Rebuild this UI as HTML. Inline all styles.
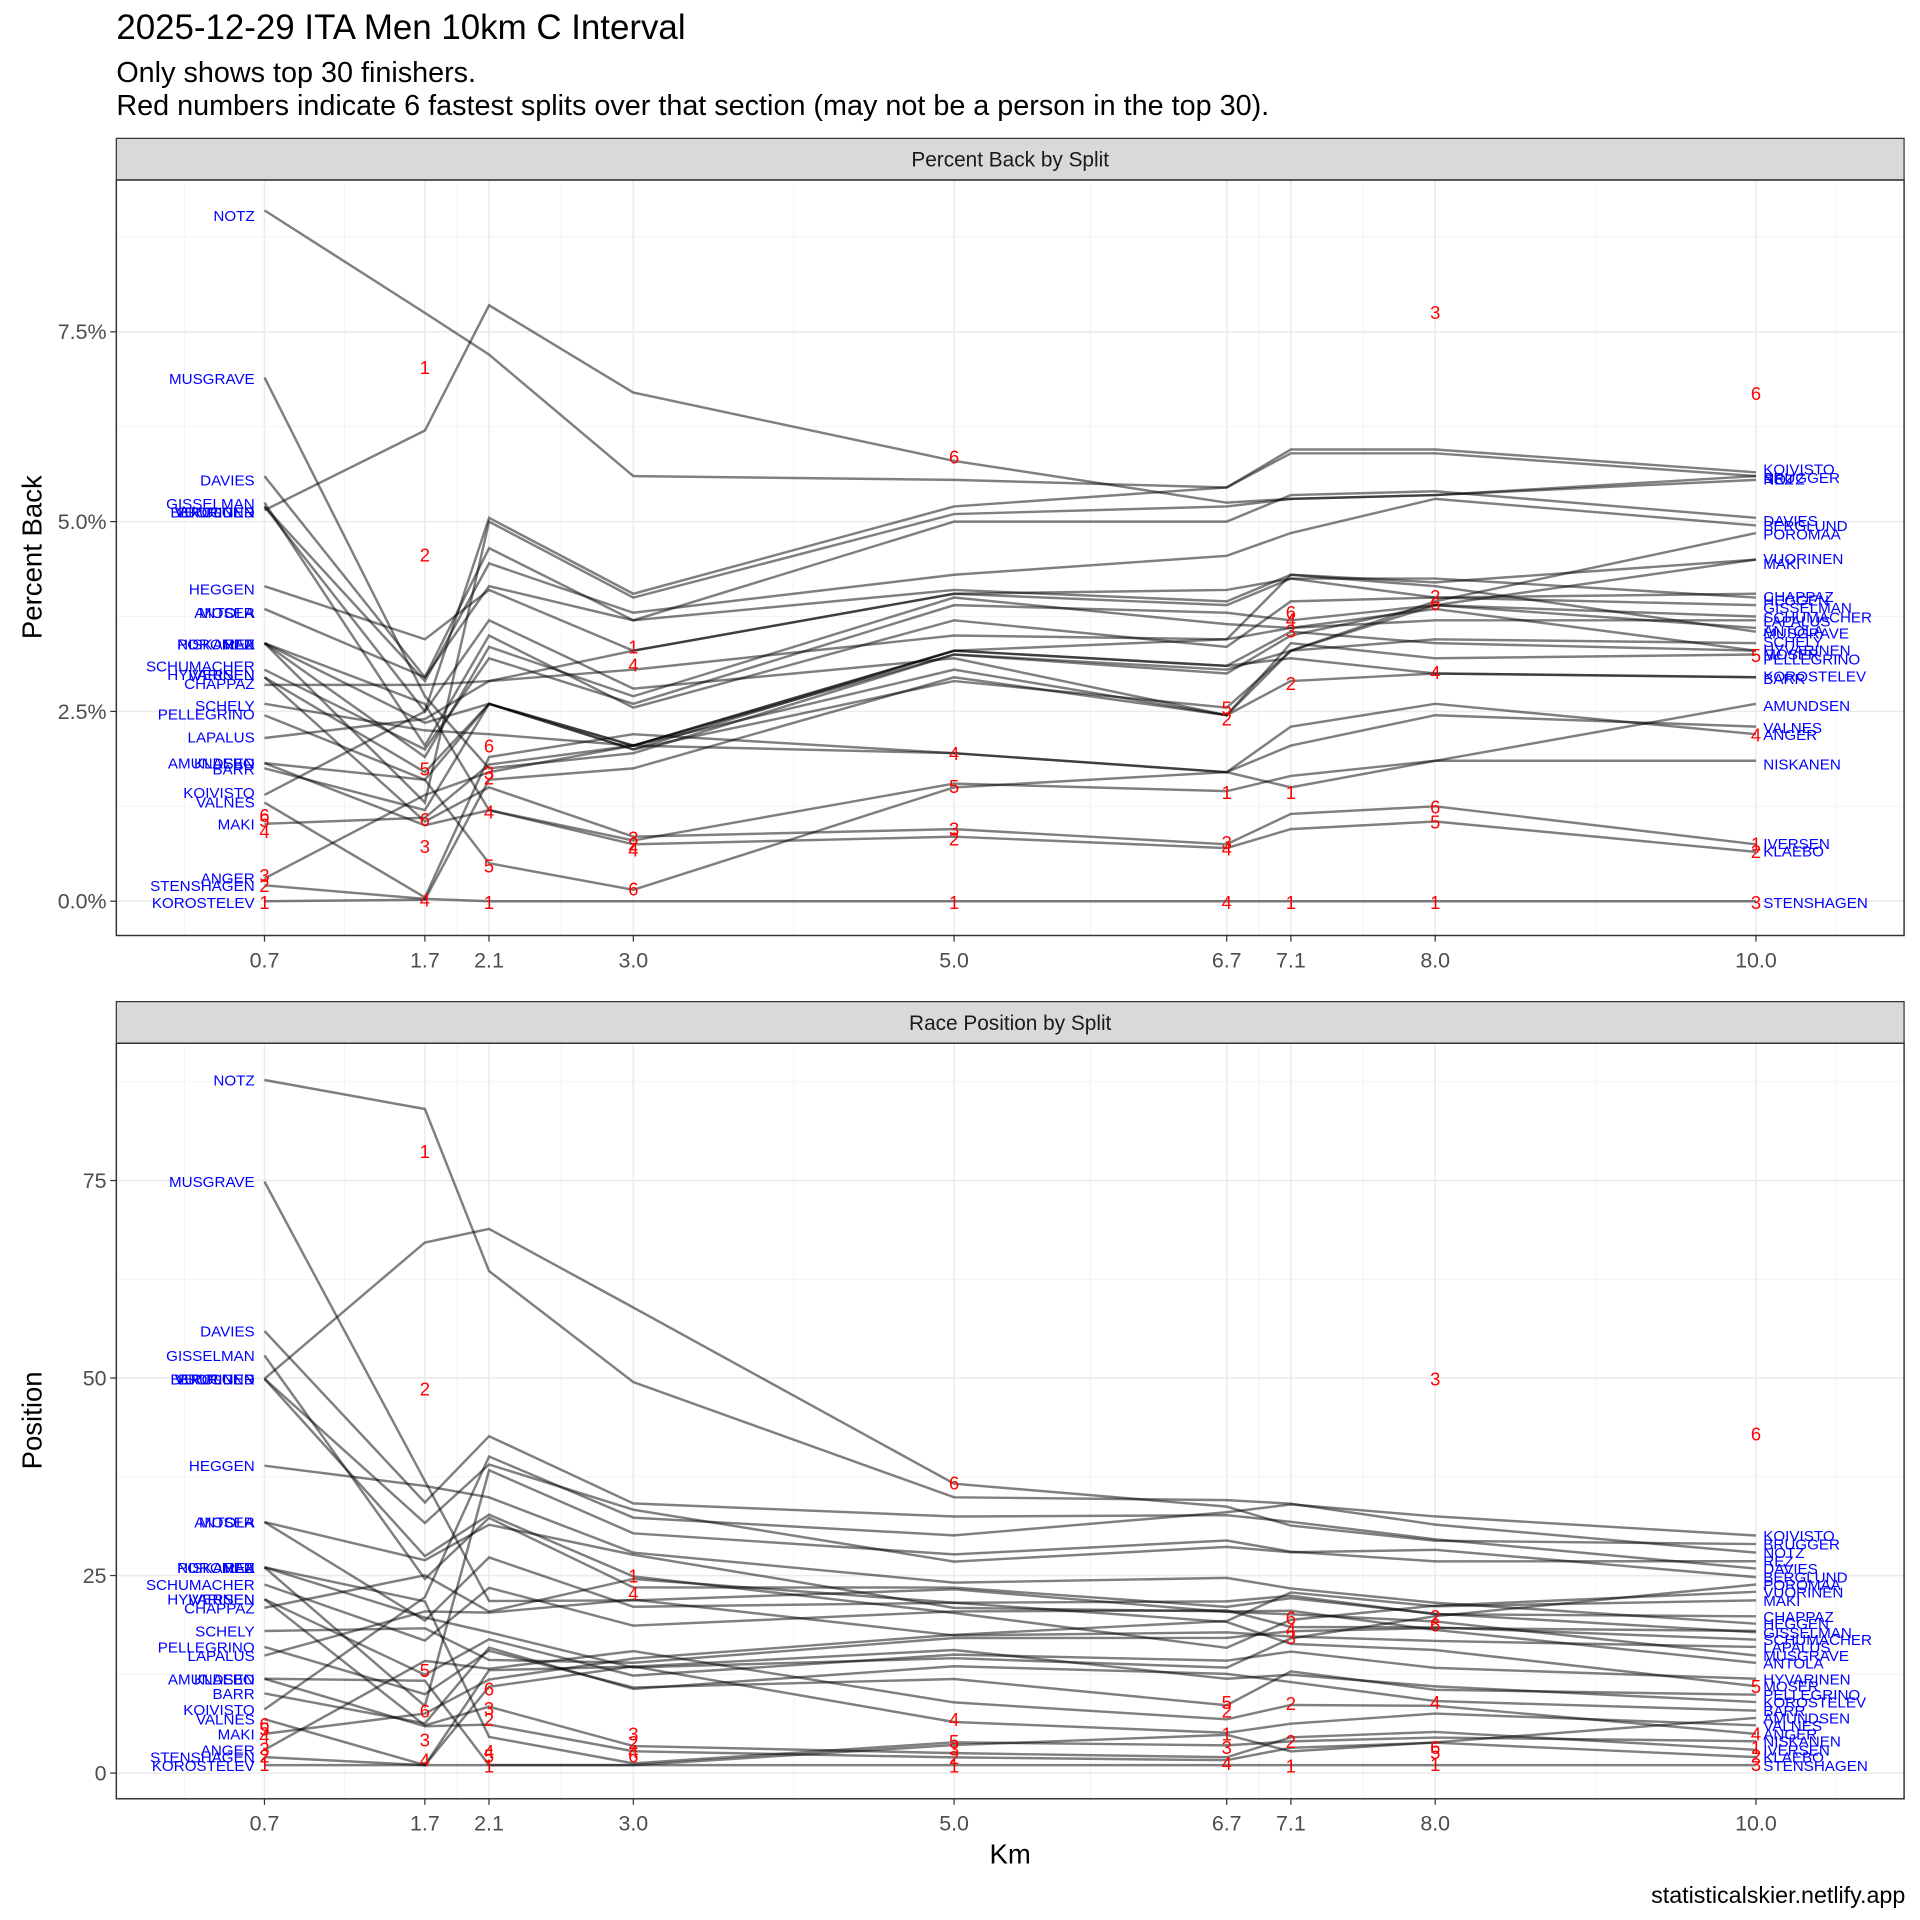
<!DOCTYPE html>
<html><head><meta charset="utf-8">
<style>html,body{margin:0;padding:0;background:#fff}svg{display:block}text{font-family:"Liberation Sans",sans-serif}</style>
</head><body>
<svg id="s" width="1920" height="1920" viewBox="0 0 1568 1568" xmlns="http://www.w3.org/2000/svg">
<rect width="1568" height="1568" fill="#fff"/>
<text x="95" y="32" font-size="28.5" fill="#000">2025-12-29 ITA Men 10km C Interval</text>
<text x="95" y="67" font-size="23.5" fill="#000">Only shows top 30 finishers.</text>
<text x="95" y="94" font-size="23.5" fill="#000">Red numbers indicate 6 fastest splits over that section (may not be a person in the top 30).</text>
<g id="g"></g>
<text x="825" y="1522" font-size="22.5" text-anchor="middle">Km</text>
<text x="1556" y="1554" font-size="19" text-anchor="end">statisticalskier.netlify.app</text>
<text transform="translate(34,455) rotate(-90)" font-size="22.5" text-anchor="middle">Percent Back</text>
<text transform="translate(34,1160) rotate(-90)" font-size="22.5" text-anchor="middle">Position</text>
</svg>
<script>
var G=document.getElementById("g"),h="";
var S=[0.7,1.7,2.1,3.0,5.0,6.7,7.1,8.0,10.0];
function X(v){return 216+(v-0.7)*130.97;}
function YT(p){return 736-p*62;}
function YB(q){return 1448-q*6.452;}
var D=[
["STENSHAGEN",.21,.03,0,0,0,0,0,0,0],
["KOROSTELEV",0,.02,1.6,1.75,2.95,2.45,2.9,3.0,2.95],
["KLAEBO",1.82,1.0,1.2,.75,.85,.7,.95,1.05,.65],
["IVERSEN",2.95,1.05,1.5,.85,.95,.75,1.15,1.25,.75],
["ANGER",.3,1.4,1.7,2.05,1.95,1.7,2.3,2.6,2.2],
["NISKANEN",3.4,2.6,1.2,.8,1.55,1.45,1.65,1.85,1.85],
["AMUNDSEN",1.82,1.6,.5,.15,1.5,1.7,1.5,1.85,2.6],
["VALNES",1.3,.05,1.9,2.2,1.95,1.7,2.05,2.45,2.3],
["BARR",1.75,1.2,2.6,2.0,3.3,3.1,3.2,3.0,2.95],
["MAKI",1.02,1.1,1.8,2.05,3.3,3.45,4.3,4.2,4.5],
["KOIVISTO",1.4,2.5,5.05,4.05,5.2,5.45,5.95,5.95,5.65],
["LAPALUS",2.15,2.4,2.9,3.05,3.5,3.45,3.6,3.7,3.7],
["PELLEGRINO",2.45,1.6,2.6,2.05,3.05,2.45,3.4,3.2,3.25],
["SCHELY",2.6,2.25,2.2,2.05,3.25,3.05,3.3,3.45,3.4],
["CHAPPAZ",2.85,2.85,2.9,3.3,4.05,3.9,4.25,4.0,4.05],
["HYVARINEN",2.95,1.7,2.6,2.05,3.3,3.1,3.55,3.4,3.3],
["SCHUMACHER",3.05,2.0,3.2,2.6,3.9,3.8,3.7,3.9,3.75],
["MOSER",3.4,1.9,3.35,2.7,4.0,3.65,3.6,3.85,3.3],
["ANTOLA",3.85,2.95,4.15,3.7,4.1,3.95,4.3,4.15,3.55],
["HEGGEN",4.15,3.45,4.1,3.3,4.05,4.1,4.25,4.25,4.0],
["BERGLUND",5.2,2.9,4.45,3.8,4.3,4.55,4.85,5.3,4.95],
["BRUGGER",5.15,6.2,7.85,6.7,5.8,5.25,5.3,5.35,5.6],
["VUORINEN",5.2,2.5,3.7,2.8,3.2,2.45,3.3,3.9,4.5],
["GISSELMAN",5.25,2.05,3.5,2.55,3.7,3.35,3.95,4.0,3.9],
["DAVIES",5.6,2.95,4.65,3.7,5.0,5.0,5.35,5.4,5.05],
["MUSGRAVE",6.9,2.7,1.75,1.95,3.25,3.0,3.5,3.9,3.6],
["NOTZ",9.1,7.75,7.2,5.6,5.55,5.45,5.9,5.9,5.6],
["POROMAA",3.4,2.35,2.6,2.0,2.9,2.55,3.3,3.95,4.85],
["REZ",3.4,1.3,5.0,4.0,5.1,5.2,5.3,5.35,5.55]
];
var K=[9.4,10.6,8.6,8.6,6.1,6.2,5.7,5.3,5.0];
var LL=[["NOTZ",176],["MUSGRAVE",309],["DAVIES",392],["GISSELMAN",411],["BERGLUND",418],["BRUGGER",418],["VUORINEN",418],["HEGGEN",481],["ANTOLA",500],["MOSER",500],["NISKANEN",526],["POROMAA",526],["REZ",526],["SCHUMACHER",544],["HYVARINEN",551],["IVERSEN",551],["CHAPPAZ",558],["SCHELY",576],["PELLEGRINO",583],["LAPALUS",602],["AMUNDSEN",623],["KLAEBO",623],["BARR",628],["KOIVISTO",647],["VALNES",655],["MAKI",673],["ANGER",717],["STENSHAGEN",723],["KOROSTELEV",737]];
var RL=[["KOIVISTO",383],["BRUGGER",390],["NOTZ",391],["REZ",391],["DAVIES",425],["BERGLUND",429],["POROMAA",436],["VUORINEN",456],["MAKI",460],["CHAPPAZ",487],["HEGGEN",490],["GISSELMAN",496],["SCHUMACHER",504],["LAPALUS",507],["ANTOLA",515],["MUSGRAVE",517],["SCHELY",524],["HYVARINEN",531],["MOSER",534],["PELLEGRINO",538],["KOROSTELEV",552],["BARR",554],["AMUNDSEN",576],["VALNES",594],["ANGER",600],["NISKANEN",624],["IVERSEN",689],["KLAEBO",695],["STENSHAGEN",737]];
var BL=[["NOTZ",882],["MUSGRAVE",965],["DAVIES",1087],["GISSELMAN",1107],["BERGLUND",1126],["BRUGGER",1126],["VUORINEN",1126],["HEGGEN",1197],["ANTOLA",1243],["MOSER",1243],["NISKANEN",1280],["POROMAA",1280],["REZ",1280],["SCHUMACHER",1294],["HYVARINEN",1306],["IVERSEN",1306],["CHAPPAZ",1313],["SCHELY",1332],["PELLEGRINO",1345],["LAPALUS",1352],["AMUNDSEN",1371],["KLAEBO",1371],["BARR",1383],["KOIVISTO",1396],["VALNES",1404],["MAKI",1416],["ANGER",1429],["STENSHAGEN",1435],["KOROSTELEV",1442]];
var BR=[["KOIVISTO",1254],["BRUGGER",1261],["NOTZ",1268],["REZ",1275],["DAVIES",1281],["BERGLUND",1288],["POROMAA",1294],["VUORINEN",1300],["MAKI",1307],["CHAPPAZ",1320],["HEGGEN",1326],["GISSELMAN",1333],["SCHUMACHER",1339],["LAPALUS",1345],["MUSGRAVE",1352],["ANTOLA",1358],["HYVARINEN",1371],["MOSER",1377],["PELLEGRINO",1384],["KOROSTELEV",1390],["BARR",1397],["AMUNDSEN",1403],["VALNES",1409],["ANGER",1416],["NISKANEN",1422],["IVERSEN",1429],["KLAEBO",1435],["STENSHAGEN",1442]];
function find(a,n){for(var i=0;i<a.length;i++)if(a[i][0]==n)return (1448-a[i][1])/6.452;return null;}
function frame(top,bot,stripTop,title){
  [0.2,1.2,1.9,2.55,4.0,5.85,6.9,7.55,9.0,10.5].forEach(function(v){h+='<line x1="'+X(v)+'" x2="'+X(v)+'" y1="'+top+'" y2="'+bot+'" stroke="#f2f2f2" stroke-width="0.7"/>';});
  S.forEach(function(v){h+='<line x1="'+X(v)+'" x2="'+X(v)+'" y1="'+top+'" y2="'+bot+'" stroke="#ebebeb" stroke-width="1.3"/>';});
  h+='<rect x="95" y="'+stripTop+'" width="1460" height="'+(top-stripTop)+'" fill="#d9d9d9" stroke="#333" stroke-width="1"/>';
  h+='<text x="825" y="'+(stripTop+23)+'" font-size="17" fill="#1a1a1a" text-anchor="middle">'+title+'</text>';
  S.forEach(function(v){h+='<line x1="'+X(v)+'" x2="'+X(v)+'" y1="'+bot+'" y2="'+(bot+5)+'" stroke="#333" stroke-width="1"/>';
    h+='<text x="'+X(v)+'" y="'+(bot+26)+'" font-size="17.5" fill="#4d4d4d" text-anchor="middle">'+v.toFixed(1)+'</text>';});
}
function ygrid(majors,minors,fy,labels){
  minors.forEach(function(v){h+='<line x1="95" x2="1555" y1="'+fy(v)+'" y2="'+fy(v)+'" stroke="#f2f2f2" stroke-width="0.7"/>';});
  majors.forEach(function(v,i){var y=fy(v);h+='<line x1="95" x2="1555" y1="'+y+'" y2="'+y+'" stroke="#ebebeb" stroke-width="1.3"/>';
   h+='<line x1="90" x2="95" y1="'+y+'" y2="'+y+'" stroke="#333"/>';
   h+='<text x="87" y="'+(y+6)+'" font-size="17.5" fill="#4d4d4d" text-anchor="end">'+labels[i]+'</text>';});
}
frame(147,764,113,"Percent Back by Split");
ygrid([0,2.5,5,7.5],[1.25,3.75,6.25,8.75],YT,["0.0%","2.5%","5.0%","7.5%"]);
frame(852,1469,818,"Race Position by Split");
ygrid([0,25,50,75],[12.5,37.5,62.5,87.5],YB,["0","25","50","75"]);
D.forEach(function(r){
  var nm=r[0],v=r.slice(1),a=[],b=[];
  var sp=find(BL,nm),ep=find(BR,nm);
  var s0=(sp==null?1+K[0]*v[0]:sp)-(v[0]==0?1:1+K[0]*v[0]);
  var e0=(ep==null?1+K[8]*v[8]:ep)-(v[8]==0?1:1+K[8]*v[8]);
  v.forEach(function(p,i){a.push(X(S[i]).toFixed(1)+","+YT(p).toFixed(1));
    var base=p==0?1:1+K[i]*p;var w=i/8;var q=base+s0*(1-w)+e0*w;if(i>0&&i<8&&p==0)q=1;
    if(q<1)q=1;
    b.push(X(S[i]).toFixed(1)+","+YB(q).toFixed(1));});
  h+='<polyline points="'+a.join(" ")+'" fill="none" stroke="#000" stroke-opacity="0.5" stroke-width="2"/>';
  h+='<polyline points="'+b.join(" ")+'" fill="none" stroke="#000" stroke-opacity="0.5" stroke-width="2"/>';
});
function lab(arr,x,anchor){arr.forEach(function(e){h+='<text x="'+x+'" y="'+(e[1]+4.5)+'" font-size="12.4" fill="#0000ff" text-anchor="'+anchor+'">'+e[0]+'</text>';});}
lab(LL,208,"end");lab(RL,1440,"start");lab(BL,208,"end");lab(BR,1440,"start");
var R=[
[0,[[6,666],[5,670],[4,679],[3,715],[2,723],[1,737],[6,1408],[5,1412],[4,1418],[3,1428],[2,1434],[1,1441]]],
[1,[[1,300],[2,453],[5,628],[6,669],[3,691],[4,735],[1,940],[2,1134],[5,1364],[6,1397],[3,1421],[4,1437]]],
[2,[[6,609],[3,631],[2,635],[4,663],[5,707],[1,737],[6,1379],[3,1395],[2,1404],[4,1430],[5,1434],[1,1442]]],
[3,[[1,528],[4,543],[3,684],[2,689],[4,694],[6,726],[1,1287],[4,1301],[3,1416],[2,1423],[4,1430],[6,1434]]],
[4,[[6,373],[4,615],[5,642],[3,677],[2,685],[1,737],[6,1211],[4,1404],[5,1422],[3,1428],[2,1435],[1,1442]]],
[5,[[5,578],[2,587],[1,647],[3,688],[4,693],[4,737],[5,1390],[2,1397],[1,1416],[3,1427],[4,1440]]],
[6,[[6,500],[4,506],[3,515],[2,558],[1,647],[1,737],[6,1321],[4,1330],[3,1337],[2,1391],[2,1422],[1,1442]]],
[7,[[3,255],[2,487],[6,493],[4,549],[6,659],[5,671],[1,737],[3,1126],[2,1320],[6,1327],[4,1390],[6,1427],[5,1431],[1,1441]]],
[8,[[6,321],[5,535],[4,600],[1,689],[2,695],[3,737],[6,1171],[5,1377],[4,1416],[1,1427],[2,1434],[3,1441]]]
];
R.forEach(function(r){var x=X(S[r[0]]);r[1].forEach(function(e){h+='<text x="'+x+'" y="'+(e[1]+5.5)+'" font-size="15" fill="#ff0000" text-anchor="middle">'+e[0]+'</text>';});});
h+='<rect x="95" y="147" width="1460" height="617" fill="none" stroke="#333" stroke-width="1.2"/>';
h+='<rect x="95" y="852" width="1460" height="617" fill="none" stroke="#333" stroke-width="1.2"/>';
G.innerHTML=h;
</script>
</body></html>
